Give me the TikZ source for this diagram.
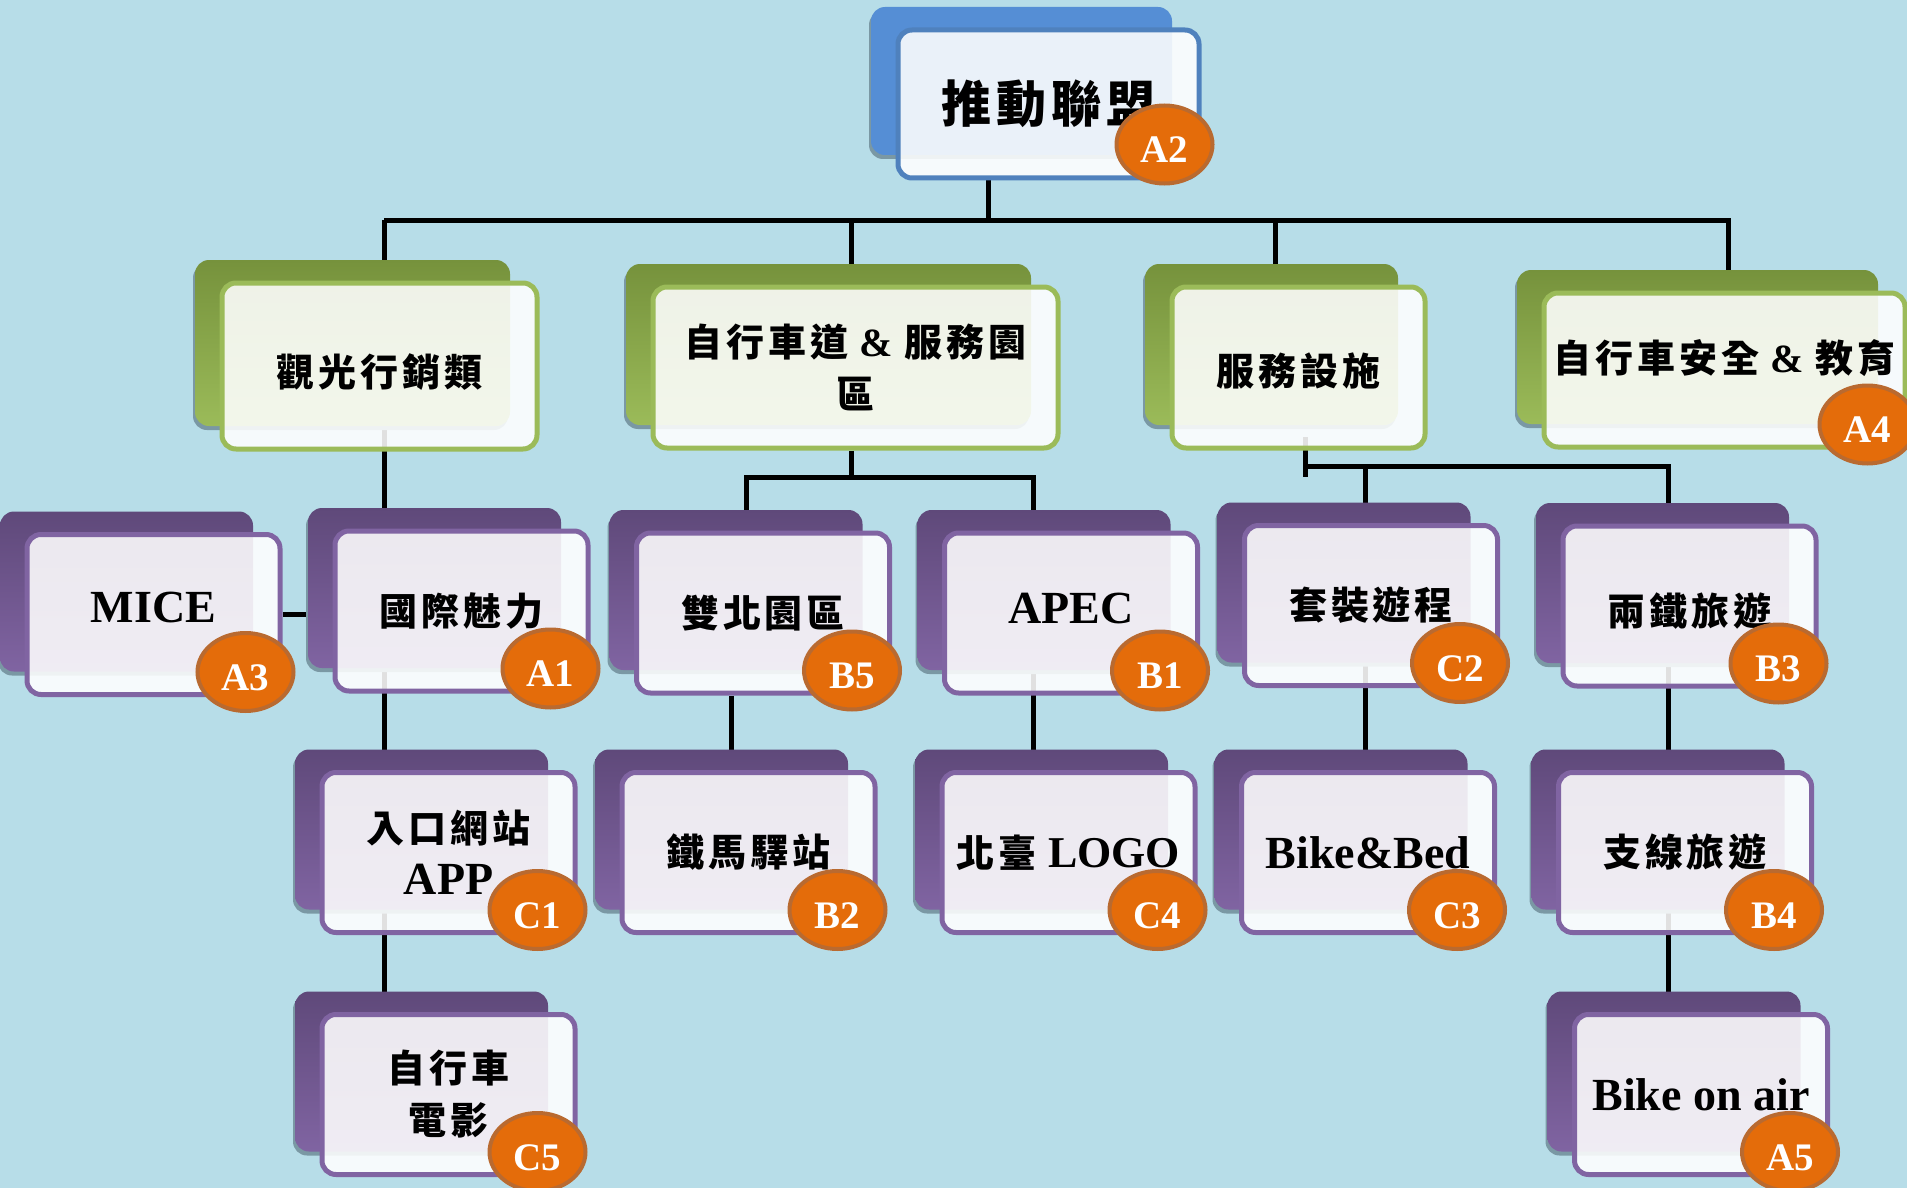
\documentclass[tikz,border=0pt]{standalone}
\usepackage{fontspec}
\setmainfont{Liberation Serif}
\newfontfamily\cjk{Noto Sans CJK TC}[LetterSpace=10]
\usetikzlibrary{shapes.geometric,shadows,backgrounds}

\definecolor{sky}{RGB}{183,221,232}
\definecolor{rootback}{RGB}{85,142,213}
\definecolor{rootline}{RGB}{79,129,189}
\definecolor{greentop}{RGB}{118,146,60}
\definecolor{greenbot}{RGB}{155,187,89}
\definecolor{purpletop}{RGB}{95,73,122}
\definecolor{purplebot}{RGB}{128,100,162}
\definecolor{badgefill}{RGB}{228,108,10}
\definecolor{badgeline}{RGB}{185,106,48}
\definecolor{dropgray}{RGB}{122,152,164}

\newcommand{\zh}[1]{{\cjk\fontsize{19}{26}\selectfont #1}}

\begin{document}
\begin{tikzpicture}[x=0.5pt,y=-0.5pt,
  card/.style={rectangle,rounded corners=7pt,line width=2.5pt,
    fill=white,fill opacity=0.88,text opacity=1,align=center,
    font=\bfseries\fontsize{23}{26}\selectfont,
    general shadow={shadow xshift=-14.5pt,shadow yshift=9.5pt,fill=dropgray,fill opacity=1}},
  rootcard/.style={card,draw=rootline,minimum width=150.5pt,minimum height=74pt,
    general shadow={shadow xshift=-13.5pt,shadow yshift=11.5pt,fill=rootback,fill opacity=1}},
  greencard/.style={card,draw=greenbot,
    general shadow={shadow xshift=-13.5pt,shadow yshift=11.5pt,top color=greentop,bottom color=greenbot,fill opacity=1}},
  purplecard/.style={card,draw=purplebot,minimum width=126.5pt,minimum height=80pt,
    general shadow={shadow xshift=-13.5pt,shadow yshift=11.5pt,top color=purpletop,bottom color=purplebot,fill opacity=1}},
  badge/.style={ellipse,draw=badgeline,fill=badgefill,line width=2pt,
    minimum width=48pt,minimum height=39pt,inner sep=0pt,text=white,
    font=\bfseries\fontsize{19.5}{19.5}\selectfont,text height=18pt,text depth=0pt}]
   \useasboundingbox (0,0) rectangle (1907,1188);

   % cards
   \node[rootcard] (a2) at (1048.5,104) {{\cjk\fontsize{25}{28}\selectfont 推動聯盟}};
   \begin{scope}[every node/.style={greencard,minimum height=80.5pt}]
    \node[minimum width=157.5pt,minimum height=83pt] (l1) at (379.5,366) {\raisebox{-3pt}[\height][\depth]{\zh{觀光行銷類}}};
    \node[minimum width=202.5pt] (l2) at (855.5,367.5) {\zh{自行車道} {\fontsize{20}{24}\selectfont\&} \zh{服務園}\\\zh{區}};
    \node[minimum width=126.5pt] (l3) at (1298.5,367.5) {\raisebox{-2pt}[\height][\depth]{\zh{服務設施}}};
    \node[minimum width=180.5pt,minimum height=77pt] (a4) at (1724.5,370) {\raisebox{6pt}[\height][\depth]{\zh{自行車安全} {\fontsize{20}{24}\selectfont\&} \zh{教育}}};
   \end{scope}
   \begin{scope}[every node/.style={purplecard}]
    \node (a3) at (153.5,614.5) {\raisebox{3.5pt}[\height][\depth]{MICE}};
    \node (a1) at (461.5,611) {\zh{國際魅力}};
    \node (b5) at (763,613) {\zh{雙北園區}};
    \node (b1) at (1071,613) {\raisebox{2.5pt}[\height][\depth]{APEC}};
    \node (c2) at (1371,605.5) {\zh{套裝遊程}};
    \node (b3) at (1689.5,606) {\raisebox{-2.5pt}[\height][\depth]{\zh{兩鐵旅遊}}};
    \node (c1) at (448.5,852.5) {\zh{入口網站}\\APP};
    \node (b2) at (748.5,852.5) {\zh{鐵馬驛站}};
    \node (c4) at (1068.5,852.5) {\zh{北臺} {\fontsize{22}{26}\selectfont LOGO}};
    \node (c3) at (1368,852.5) {Bike\&Bed};
    \node (b4) at (1685,852.5) {\zh{支線旅遊}};
    \node (c5) at (448.5,1094.5) {\zh{自行車}\\\zh{電影}};
    \node (a5) at (1701,1094.5) {Bike on air};
   \end{scope}

   % badges
   \begin{scope}[every node/.style={badge}]
    \node (a2t) at ([shift={(-37,-36)}]a2.south east) {A2};
    \node (a4t) at ([shift={(-40,-25)}]a4.south east) {A4};
    \node (a3t) at ([shift={(-37,-25)}]a3.south east) {A3};
    \node (a1t) at ([shift={(-40,-25)}]a1.south east) {A1};
    \node (b5t) at ([shift={(-40,-25)}]b5.south east) {B5};
    \node (b1t) at ([shift={(-40,-25)}]b1.south east) {B1};
    \node (c2t) at ([shift={(-40,-25)}]c2.south east) {C2};
    \node (b3t) at ([shift={(-40,-25)}]b3.south east) {B3};
    \node (c1t) at ([shift={(-40,-25)}]c1.south east) {C1};
    \node (b2t) at ([shift={(-40,-25)}]b2.south east) {B2};
    \node (c4t) at ([shift={(-40,-25)}]c4.south east) {C4};
    \node (c3t) at ([shift={(-40,-25)}]c3.south east) {C3};
    \node (b4t) at ([shift={(-40,-25)}]b4.south east) {B4};
    \node (c5t) at ([shift={(-40,-25)}]c5.south east) {C5};
    \node (a5t) at ([shift={(-40,-25)}]a5.south east) {A5};
   \end{scope}

   % connectors, behind the cards
   \begin{scope}[on background layer]
    \fill[sky] (0,0) rectangle (1907,1188);
    \coordinate (top) at (988,220);
    \coordinate (j1) at (384,220);
    \coordinate (j2) at (851,220);
    \coordinate (j3) at (1275,220);
    \coordinate (j4) at (1728,220);
    \coordinate (k2) at (851,477);
    \coordinate (k2l) at (746,477);
    \coordinate (k2r) at (1033,477);
    \coordinate (m2) at (731,760);
    \coordinate (k3a) at (1305,437);
    \coordinate (k3) at (1305,466);
    \coordinate (k3b) at (1305,477);
    \coordinate (k3l) at (1365,466);
    \coordinate (k3r) at (1668,466);
    \begin{scope}[line width=2.5pt]
     \draw (a2.south -| top) -- (top);
     \draw (j1) -- (j4) -- (j4 |- a4.north);
     \draw (j2) -- (j2 |- l2.north);
     \draw (j3) -- (j3 |- l3.north);
     \draw (j1) -- (j1 |- c5.north);
     \draw (a3.east) -- (a3.east -| j1);
     \draw (k2 |- l2.south) -- (k2);
     \draw (k2l |- b5.north) -- (k2l) -- (k2r) -- (k2r |- c4.north);
     \draw (b5.south -| m2) -- (b2.north -| m2);
     \draw (k3a) -- (k3b);
     \draw (k3) -- (k3r) -- (k3r |- a5.north);
     \draw (k3l) -- (k3l |- c3.north);
    \end{scope}
   \end{scope}
\end{tikzpicture}
\end{document}
